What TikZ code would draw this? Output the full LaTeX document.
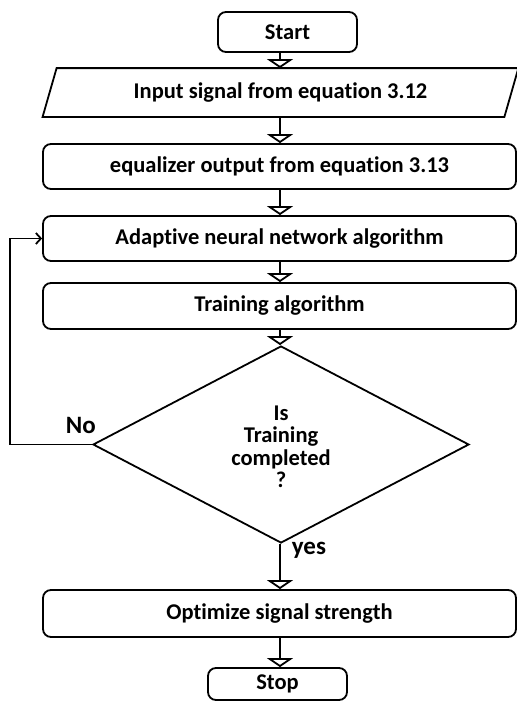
\documentclass[tikz,border=0pt]{standalone}
\usepackage{fontspec}
\setmainfont{Carlito}[Ligatures=NoCommon]
\usetikzlibrary{shapes.geometric,arrows.meta}
\begin{document}
\begin{tikzpicture}[x=1pt,y=-1pt,
  line width=1.8pt,
  every node/.style={font=\bfseries\fontsize{22.5}{24}\selectfont, inner sep=0pt},
  procbox/.style={draw, rounded corners=8pt, minimum width=473pt},
  termbox/.style={draw, rounded corners=8pt, minimum width=139pt},
  flow/.style={-{Triangle[open,width=26pt,length=9pt]}},
  back/.style={-{Straight Barb[length=5pt,width=11pt]}},
  decision/.style={draw, diamond, minimum width=376pt, minimum height=197pt,
    aspect=1.9, align=center, font=\bfseries\fontsize{22.5}{22.5}\selectfont},
  branch/.style={font=\bfseries\fontsize{25}{27}\selectfont}
]
\useasboundingbox (0,0) rectangle (517,702);
\fill[white] (0,0) rectangle (517,702);

% vertical line that carries the main flow
\coordinate (spine) at (280,0);

% process chain
\node[termbox, minimum height=40pt] (start) at (287.5,32) {Start};
\node[minimum width=460pt, minimum height=47pt] (inp) at (280.5,92.5) {Input signal from equation 3.12};
\draw ([xshift=-7pt]inp.south west) -- ([xshift=-7pt]inp.south east)
   -- ([xshift=7pt]inp.north east) -- ([xshift=7pt]inp.north west) -- cycle;
\node[procbox, minimum height=45pt] (eq) at (279.5,166.5) {equalizer output from equation 3.13};
\node[procbox, minimum height=45pt] (ada) at (279.5,238.5) {Adaptive neural network algorithm};
\node[procbox, minimum height=46pt] (tra) at (279.5,306) {Training algorithm};
\node[decision] (dec) at (281,444.5) {};
\node[align=center, font=\bfseries\fontsize{22.5}{22.5}\selectfont] (dectext) at (281,447) {Is\\Training\\completed\\?};
\node[procbox, minimum height=47pt] (opt) at (279.5,613.5) {Optimize signal strength};
\node[termbox, minimum height=32pt] (stop) at (277.5,684) {Stop};

% connectors
\draw[flow] (start.south -| spine) -- (inp.north -| spine);
\draw[flow] (inp.south -| spine) -- (eq.north -| spine);
\draw[flow] (eq.south -| spine) -- (ada.north -| spine);
\draw[flow] (ada.south -| spine) -- (tra.north -| spine);
\draw[flow] (tra.south -| spine) -- (dec.north -| spine);
\draw[flow] (dec.south -| spine) -- (opt.north -| spine);
\draw[flow] (opt.south -| spine) -- (stop.north -| spine);

% loop back when training is not finished
\coordinate (loopx) at (10,0);
\draw[back] (dec.west) -| (loopx |- ada.west) -- (ada.west);

% branch labels
\node[branch, anchor=base west] (no) at (65,433) {No};
\node[branch, anchor=base west] (yes) at (291,554) {yes};
\end{tikzpicture}
\end{document}
